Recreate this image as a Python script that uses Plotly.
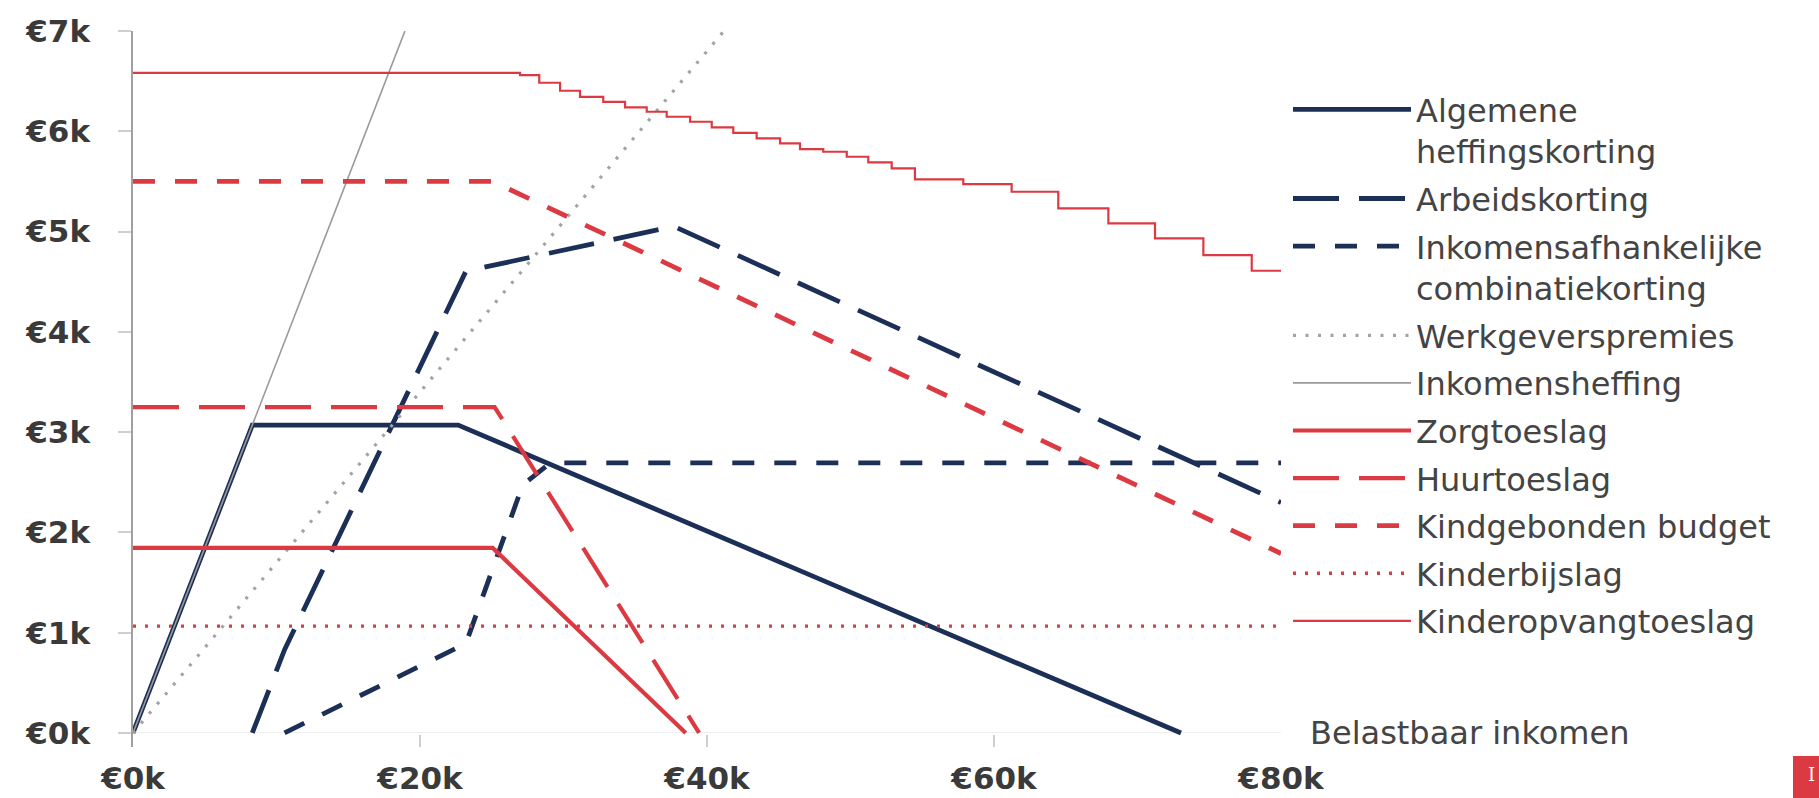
import plotly.graph_objects as go

# ---------------- data ----------------
ahk_x = [0, 8313, 22661, 73031]
ahk_y = [0, 3070, 3070, 0]

ak_x = [8313, 10562, 23201, 37691, 80000]
ak_y = [0, 830, 4605, 5052, 2298]

iack_x = [10562, 23201, 27160, 29076, 80000]
iack_y = [0, 893, 2474, 2694, 2694]

wgp_x = [0, 41180]
wgp_y = [0, 7000]

ih_x = [0, 18950]
ih_y = [0, 7000]

zorg_x = [0, 25070, 38520]
zorg_y = [1845, 1845, 0]

huur_x = [0, 25200, 39450]
huur_y = [3250, 3250, 0]

kgb_x = [0, 25070, 80000]
kgb_y = [5500, 5500, 1790]

kbs_x = [0, 80000]
kbs_y = [1065, 1065]

kot_x = [0, 26970, 28310, 29760, 31150, 32770, 34290, 35800, 37190, 38820, 40330,
         41830, 43460, 45090, 46480, 48100, 49740, 51240, 52870, 54490, 57860,
         61230, 64480, 67970, 71220, 74590, 77960, 80000]
kot_y = [6583, 6560, 6484, 6404, 6344, 6294, 6238, 6195, 6145, 6095, 6039,
         5985, 5929, 5879, 5823, 5796, 5746, 5690, 5630, 5520, 5474,
         5397, 5231, 5082, 4932, 4766, 4609, 4609]

x_tickvals = [0, 20000, 40000, 60000, 80000]
x_ticktext = ["€0k", "€20k", "€40k", "€60k", "€80k"]
y_tickvals = [0, 1000, 2000, 3000, 4000, 5000, 6000, 7000]
y_ticktext = ["€0k", "€1k", "€2k", "€3k", "€4k", "€5k", "€6k", "€7k"]

# ---------------- styles ----------------
NAVY = "#1c2f57"
RED = "#dc3a42"
GREY = "#9a9a9a"
GREY_DOT = "#a3a3a3"
LONG = "46px,20px"
SHORT = "22px,20px"

series = [
    ("Algemene<br>heffingskorting", ahk_x, ahk_y, NAVY, 4.8, "solid", "linear"),
    ("Arbeidskorting", ak_x, ak_y, NAVY, 4.8, LONG, "linear"),
    ("Inkomensafhankelijke<br>combinatiekorting", iack_x, iack_y, NAVY, 4.8, SHORT, "linear"),
    ("Werkgeverspremies", wgp_x, wgp_y, GREY_DOT, 3.2, "3px,9.5px", "linear"),
    ("Inkomensheffing", ih_x, ih_y, GREY, 1.6, "solid", "linear"),
    ("Zorgtoeslag", zorg_x, zorg_y, RED, 4.2, "solid", "linear"),
    ("Huurtoeslag", huur_x, huur_y, RED, 4.2, LONG, "linear"),
    ("Kindgebonden budget", kgb_x, kgb_y, RED, 4.8, SHORT, "linear"),
    ("Kinderbijslag", kbs_x, kbs_y, RED, 3.4, "3px,9px", "linear"),
    ("Kinderopvangtoeslag", kot_x, kot_y, RED, 2.2, "solid", "hv"),
]

fig = go.Figure()
for i, (name, xs, ys, color, width, dash, shape) in enumerate(series):
    fig.add_trace(go.Scatter(
        x=xs, y=ys, name=name, mode="lines", legendgroup=f"g{i}",
        line=dict(color=color, width=width, dash=dash, shape=shape),
        hoverinfo="skip",
    ))

W, H = 1819, 798
L, R, T, B = 133, 538, 31, 51
pw = W - L - R
ph = H - T - B

def px_x(p):
    return (p - L) / pw

def px_y(p):
    return (H - B - p) / ph

TICKFONT = dict(family="DejaVu Sans", size=31, weight="bold", color="#3a3a3a")

fig.update_layout(
    width=W, height=H,
    margin=dict(l=L, r=R, t=T, b=B, pad=0, autoexpand=False),
    paper_bgcolor="white", plot_bgcolor="white",
    showlegend=True,
    legend=dict(
        x=px_x(1288), y=px_y(82), xanchor="left", yanchor="top",
        font=dict(family="DejaVu Sans", size=32, color="#444444"),
        itemwidth=118, valign="top", tracegroupgap=3,
        bgcolor="rgba(0,0,0,0)", borderwidth=0,
    ),
    xaxis=dict(
        range=[0, 80000], tickvals=x_tickvals, ticktext=x_ticktext,
        showgrid=False, zeroline=False, showline=False, automargin=False,
        ticks="inside", ticklen=12, tickwidth=1.5, tickcolor="#cfcfcf",
        tickfont=TICKFONT, ticklabelstandoff=10,
    ),
    yaxis=dict(
        range=[-140, 7000], tickvals=y_tickvals, ticktext=y_ticktext,
        showgrid=False, zeroline=True, zerolinecolor="#efefef", zerolinewidth=1,
        showline=True, linecolor="#a0a0a0", linewidth=1.5, automargin=False,
        ticks="outside", ticklen=13, tickwidth=1.5, tickcolor="#cfcfcf",
        tickfont=TICKFONT, ticklabelstandoff=22,
    ),
)

fig.add_annotation(
    x=80000, y=0, xref="x", yref="y", xshift=27, xanchor="left", yanchor="middle",
    text="Belastbaar inkomen", showarrow=False,
    font=dict(family="DejaVu Sans", size=32, color="#444444"),
)

# small red logo block in the bottom-right corner
fig.add_shape(
    type="rect", xref="paper", yref="paper",
    x0=px_x(1793), x1=px_x(1822), y0=px_y(756), y1=px_y(800),
    fillcolor=RED, line=dict(width=0), layer="above",
)
fig.add_annotation(
    x=px_x(1811), y=px_y(775), xref="paper", yref="paper",
    text="I", showarrow=False, xanchor="center", yanchor="middle",
    font=dict(family="DejaVu Serif", size=18, color="white"),
)

fig.write_html(
    "out.html",
    config={"displayModeBar": False},
    post_script=(
        "document.documentElement.style.margin='0px';"
        "document.body.style.margin='0px';"
        "document.body.style.overflow='hidden';"
    ),
)
